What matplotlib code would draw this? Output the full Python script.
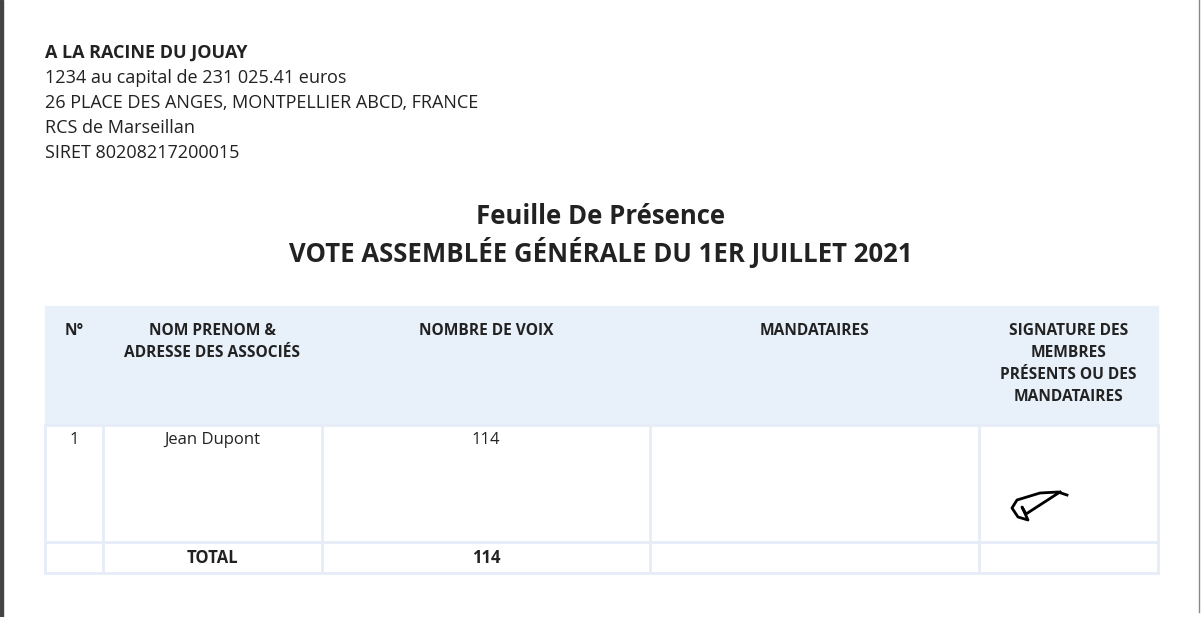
import matplotlib.pyplot as plt
from matplotlib.patches import Rectangle

# --- contenu du document ---
entete = ['A LA RACINE DU JOUAY', '1234 au capital de 231 025.41 euros',
          '26 PLACE DES ANGES, MONTPELLIER ABCD, FRANCE', 'RCS de Marseillan', 'SIRET 80208217200015']
titre = ['Feuille De Présence', 'VOTE ASSEMBLÉE GÉNÉRALE DU 1ER JUILLET 2021']
colonnes = ['N°', 'NOM PRENOM &\nADRESSE DES ASSOCIÉS', 'NOMBRE DE VOIX', 'MANDATAIRES',
            'SIGNATURE DES\nMEMBRES\nPRÉSENTS OU DES\nMANDATAIRES']
ligne = ['1', 'Jean Dupont', '114', '', '']
total = ['', 'TOTAL', '114', '', '']
signature_x = [1067, 1058, 1040, 1017, 1012, 1018, 1028, 1022, 1026, 1060]
signature_y = [495, 492, 493, 500, 508, 517, 520, 507, 514, 492]

bords = [45, 103, 322, 650, 979, 1158]
y_haut, y_ligne, y_total, y_bas = 306, 425, 542, 573
bordure = '#e6edf7'
txt = '#222222'

plt.rcParams['font.family'] = 'Open Sans'
fig = plt.figure(figsize=(12.03, 6.17), dpi=100)
ax = fig.add_axes([0, 0, 1, 1])
ax.set_xlim(0, 1203)
ax.set_ylim(617, 0)
ax.axis('off')

# cadre de la page
ax.add_patch(Rectangle((0, 0), 3, 617, color='#444444'))
ax.plot([1199, 1199], [0, 612], color='#888888', lw=1)

for i, t in enumerate(entete):
    ax.text(45, 53 + 25 * i, t, fontsize=13, color=txt, va='center',
            fontweight='bold' if i == 0 else 'normal')

ax.text(601, 217, titre[0], fontsize=18.5, fontweight='bold', color=txt, ha='center', va='center')
ax.text(601, 253, titre[1], fontsize=18.5, fontweight='bold', color=txt, ha='center', va='center')

# tableau
ax.add_patch(Rectangle((bords[0], y_haut), bords[-1] - bords[0], y_ligne - y_haut, color='#e8f0fa'))
for yy in [y_ligne, y_total, y_bas]:
    ax.plot([bords[0], bords[-1]], [yy, yy], color=bordure, lw=2)
for xx in bords:
    ax.plot([xx, xx], [y_ligne, y_bas], color=bordure, lw=2)

for i, c in enumerate(colonnes):
    cx = (bords[i] + bords[i + 1]) / 2
    ax.text(cx, 323, c, fontsize=11.2, fontweight='bold', color=txt, ha='center', va='top',
            linespacing=1.5)
    ax.text(cx, 440, ligne[i], fontsize=12, color=txt, ha='center', va='center')
    ax.text(cx, 558, total[i], fontsize=12, fontweight='bold', color=txt, ha='center', va='center')

ax.plot(signature_x, signature_y, color='black', lw=2)

fig.savefig('out.png', dpi=100, facecolor='white')
